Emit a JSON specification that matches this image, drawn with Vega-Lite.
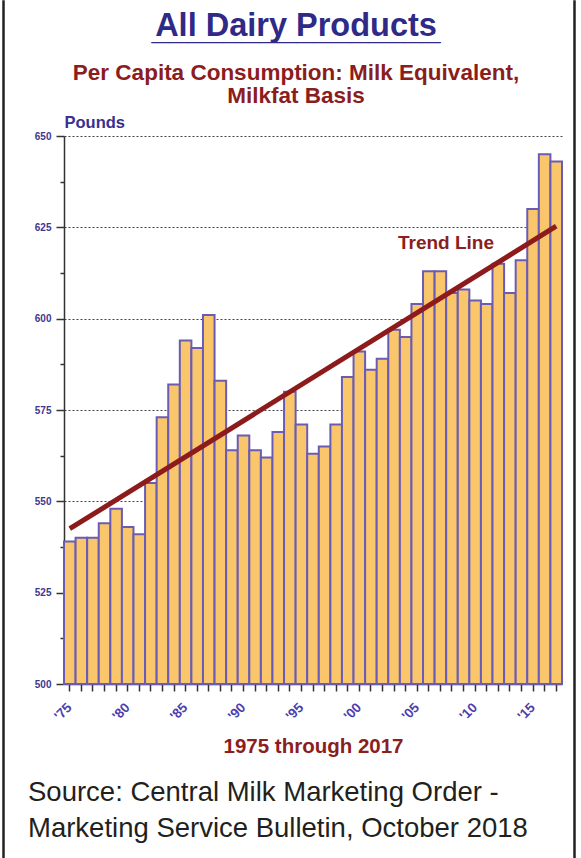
{
  "$schema": "https://vega.github.io/schema/vega-lite/v6.json",
  "background": "white",
  "padding": {"left": 2, "top": 0, "right": 2, "bottom": 0},
  "datasets": {
    "consumption": [
      {"year": 1975, "pounds": 539}, {"year": 1976, "pounds": 540}, {"year": 1977, "pounds": 540},
      {"year": 1978, "pounds": 544}, {"year": 1979, "pounds": 548}, {"year": 1980, "pounds": 543},
      {"year": 1981, "pounds": 541}, {"year": 1982, "pounds": 555}, {"year": 1983, "pounds": 573},
      {"year": 1984, "pounds": 582}, {"year": 1985, "pounds": 594}, {"year": 1986, "pounds": 592},
      {"year": 1987, "pounds": 601}, {"year": 1988, "pounds": 583}, {"year": 1989, "pounds": 564},
      {"year": 1990, "pounds": 568}, {"year": 1991, "pounds": 564}, {"year": 1992, "pounds": 562},
      {"year": 1993, "pounds": 569}, {"year": 1994, "pounds": 580}, {"year": 1995, "pounds": 571},
      {"year": 1996, "pounds": 563}, {"year": 1997, "pounds": 565}, {"year": 1998, "pounds": 571},
      {"year": 1999, "pounds": 584}, {"year": 2000, "pounds": 591}, {"year": 2001, "pounds": 586},
      {"year": 2002, "pounds": 589}, {"year": 2003, "pounds": 597}, {"year": 2004, "pounds": 595},
      {"year": 2005, "pounds": 604}, {"year": 2006, "pounds": 613}, {"year": 2007, "pounds": 613},
      {"year": 2008, "pounds": 607}, {"year": 2009, "pounds": 608}, {"year": 2010, "pounds": 605},
      {"year": 2011, "pounds": 604}, {"year": 2012, "pounds": 615}, {"year": 2013, "pounds": 607},
      {"year": 2014, "pounds": 616}, {"year": 2015, "pounds": 630}, {"year": 2016, "pounds": 645},
      {"year": 2017, "pounds": 643}
    ],
    "trend": [
      {"year": 1975, "pounds": 542.5},
      {"year": 2017, "pounds": 625.3}
    ],
    "trendLabel": [
      {"year": 2008, "pounds": 620.7, "label": "Trend Line"}
    ]
  },
  "spacing": 23,
  "hconcat": [
    {
      "width": 1,
      "height": 900,
      "view": {"stroke": "#222222", "strokeWidth": 1.5},
      "data": {"values": []},
      "mark": "rule",
      "encoding": {}
    },
    {
      "spacing": 6,
      "hconcat": [
        {
          "spacing": 7,
          "vconcat": [
            {
              "width": 498,
              "height": 1,
              "data": {"values": []},
              "mark": "rule",
              "encoding": {},
              "title": {
                "text": ["All Dairy Products", "________________"],
                "subtitle": ["Per Capita Consumption: Milk Equivalent,", "Milkfat Basis"],
                "orient": "bottom",
                "anchor": "middle",
                "frame": "group",
                "dx": -17,
                "font": "Liberation Sans",
                "fontSize": 32.5,
                "fontWeight": "bold",
                "color": "#2f2a86",
                "lineHeight": 3,
                "subtitleFont": "Liberation Sans",
                "subtitleFontSize": 22.5,
                "subtitleFontWeight": "bold",
                "subtitleColor": "#8b1d1d",
                "subtitleLineHeight": 23,
                "subtitlePadding": 16,
                "offset": 8
              }
            },
            {
              "width": 498,
              "height": 548,
              "title": {
                "text": ["Source: Central Milk Marketing Order -", "Marketing Service Bulletin, October 2018"],
                "orient": "bottom",
                "anchor": "start",
                "frame": "group",
                "align": "left",
                "dx": -36,
                "font": "Liberation Sans",
                "fontSize": 27.5,
                "fontWeight": "normal",
                "color": "#231f20",
                "lineHeight": 36,
                "offset": 22
              },
              "layer": [
                {
                  "data": {"name": "consumption"},
                  "mark": {"type": "bar", "fill": "#f9c66b", "stroke": "#6a5cb4", "strokeWidth": 2},
                  "encoding": {
                    "x": {
                      "field": "year",
                      "type": "ordinal",
                      "scale": {"paddingInner": 0, "paddingOuter": 0},
                      "axis": {
                        "title": "1975 through 2017",
                        "titleFont": "Liberation Sans",
                        "titleFontSize": 20.5,
                        "titleFontWeight": "bold",
                        "titleColor": "#8b1e1e",
                        "titlePadding": 14,
                        "labelAngle": -45,
                        "labelAlign": "right",
                        "labelBaseline": "middle",
                        "labelExpr": "datum.value % 5 === 0 ? \"'\" + slice(datum.label, 2) : ''",
                        "labelFont": "Liberation Sans",
                        "labelFontSize": 13.5,
                        "labelFontWeight": "bold",
                        "labelColor": "#4b3fae",
                        "labelPadding": 14,
                        "labelOverlap": false,
                        "tickSize": 7,
                        "tickColor": "#333333",
                        "tickWidth": 1.5,
                        "domainColor": "#333333",
                        "domainWidth": 1.5,
                        "grid": false
                      }
                    },
                    "y": {
                      "field": "pounds",
                      "type": "quantitative",
                      "scale": {"domain": [500, 650], "zero": false, "nice": false},
                      "axis": {
                        "title": "Pounds",
                        "titleAngle": 0,
                        "titleAlign": "left",
                        "titleBaseline": "alphabetic",
                        "titleX": 0,
                        "titleY": -9,
                        "titleFont": "Liberation Sans",
                        "titleFontSize": 16.5,
                        "titleFontWeight": "bold",
                        "titleColor": "#3b2f8f",
                        "values": [500, 506.25, 512.5, 518.75, 525, 531.25, 537.5, 543.75, 550, 556.25, 562.5, 568.75, 575, 581.25, 587.5, 593.75, 600, 606.25, 612.5, 618.75, 625, 631.25, 637.5, 643.75, 650],
                        "labelExpr": "datum.value % 25 === 0 ? format(datum.value, 'd') : ''",
                        "labelFont": "Liberation Sans",
                        "labelFontSize": 10,
                        "labelFontWeight": "bold",
                        "labelColor": "#3f3790",
                        "labelPadding": 5,
                        "labelOverlap": false,
                        "tickSize": {"condition": {"test": "datum.value % 25 === 0", "value": 8}, "value": 4},
                        "tickColor": "#333333",
                        "tickWidth": 1.5,
                        "domainColor": "#333333",
                        "domainWidth": 1.5,
                        "grid": true,
                        "gridColor": "#444444",
                        "gridDash": [2, 2],
                        "gridWidth": 1.2,
                        "gridOpacity": {"condition": {"test": "datum.value % 25 === 0 && datum.value > 500", "value": 1}, "value": 0}
                      }
                    },
                    "y2": {"datum": 500}
                  }
                },
                {
                  "data": {"name": "trend"},
                  "mark": {"type": "line", "color": "#8e1b1b", "strokeWidth": 5, "strokeCap": "butt"},
                  "encoding": {
                    "x": {"field": "year", "type": "ordinal"},
                    "y": {"field": "pounds", "type": "quantitative"}
                  }
                },
                {
                  "data": {"name": "trendLabel"},
                  "mark": {"type": "text", "font": "Liberation Sans", "fontSize": 19, "fontWeight": "bold", "color": "#8b1e1e", "dx": -6, "baseline": "middle"},
                  "encoding": {
                    "x": {"field": "year", "type": "ordinal"},
                    "y": {"field": "pounds", "type": "quantitative"},
                    "text": {"field": "label"}
                  }
                }
              ]
            }
          ]
        },
        {
          "width": 1,
          "height": 900,
          "view": {"stroke": "#222222", "strokeWidth": 1.5},
          "data": {"values": []},
          "mark": "rule",
          "encoding": {}
        }
      ]
    }
  ],
  "config": {
    "view": {"stroke": null},
    "concat": {"spacing": 6}
  }
}
